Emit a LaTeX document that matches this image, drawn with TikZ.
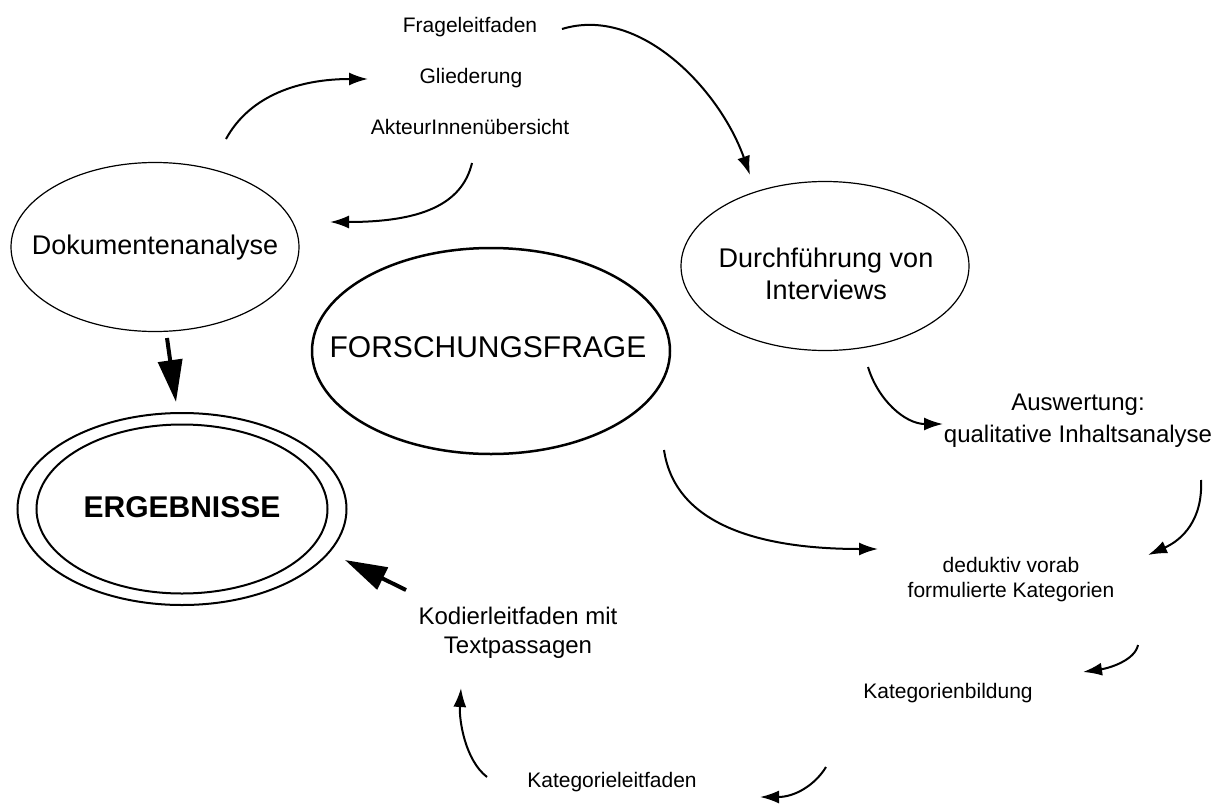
\documentclass[tikz,border=0pt]{standalone}
\usepackage{fontspec}
\setmainfont{Liberation Sans}
\usetikzlibrary{shapes.geometric,arrows.meta}

\tikzset{
  oval/.style={line width=1.2pt},
  txt/.style={align=center, inner sep=0pt},
  lbl/.style={font=\fontsize{21}{25}\selectfont, align=center, inner sep=0pt},
  midlbl/.style={font=\fontsize{24}{30}\selectfont, align=center, inner sep=0pt},
  flow/.style={line width=2pt, -{Latex[length=19pt,width=13pt]}},
  bigflow/.style={line width=4pt, -{Triangle[length=42pt,width=24pt]}},
}

\begin{document}
\begin{tikzpicture}[x=1pt,y=-1pt]
    \useasboundingbox (0,0) rectangle (1223,806);
    % ellipses
    \node[txt, font=\fontsize{27}{32}\selectfont] (doku) at (155,248) {Dokumentenanalyse};
    \draw[oval] (155,247) ellipse (144 and 84.5);
    \node[txt, font=\fontsize{27}{32}\selectfont] (interv) at (826,274) {Durchführung von\\Interviews};
    \draw[oval] (825,266) ellipse (144 and 84.5);
    \node[txt, font=\fontsize{30}{36}\selectfont] (frage) at (488,347) {FORSCHUNGSFRAGE};
    \draw[oval, line width=2.5pt] (491,351) ellipse (179 and 103);
    \node[txt, font=\bfseries\fontsize{30}{36}\selectfont] (erg) at (182,507) {ERGEBNISSE};
    \draw[line width=2pt] (182,509) ellipse (145.5 and 84.5);
    \draw[line width=2pt] (182,509) ellipse (164.5 and 96);
    % labels
    \node[lbl] (fleit) at (470,27) {Frageleitfaden};
    \node[lbl] (glied) at (471,78) {Gliederung};
    \node[lbl] (akteur) at (470,127) {AkteurInnenübersicht};
    \node[midlbl, font=\fontsize{24}{32}\selectfont] (ausw) at (1078,421) {Auswertung:\\qualitative Inhaltsanalyse};
    \node[lbl] (dedu) at (1011,580) {deduktiv vorab\\formulierte Kategorien};
    \node[lbl] (kbild) at (948,693) {Kategorienbildung};
    \node[lbl] (kleit) at (612,782) {Kategorieleitfaden};
    \node[midlbl, font=\fontsize{24}{29}\selectfont] (kodier) at (518,633) {Kodierleitfaden mit\\Textpassagen};
    % arrow ends
    \coordinate (a1) at (226,139);  \coordinate (a2) at (368,79);
    \coordinate (b1) at (472,163);  \coordinate (b2) at (330,222);
    \coordinate (c1) at (562,29);   \coordinate (c2) at (750,175);
    \coordinate (d1) at (167,338);  \coordinate (d2) at (176,402);
    \coordinate (e1) at (406,590);  \coordinate (e2) at (345,560);
    \coordinate (f1) at (868,367);  \coordinate (f2) at (943,424);
    \coordinate (g1) at (664,450);  \coordinate (g2) at (878,549);
    \coordinate (h1) at (1201,480); \coordinate (h2) at (1148,555);
    \coordinate (i1) at (1138,645); \coordinate (i2) at (1083,672);
    \coordinate (j1) at (826,767);  \coordinate (j2) at (760,797);
    \coordinate (k1) at (487,777);  \coordinate (k2) at (461,688);
    % arrows
    \draw[flow] (a1) .. controls (250,95) and (300,79) .. (a2);
    \draw[flow] (b1) .. controls (462,205) and (420,222) .. (b2);
    \draw[flow] (c1) .. controls (640,5) and (720,90) .. (c2);
    \draw[bigflow] (d1) -- (d2);
    \draw[bigflow] (e1) -- (e2);
    \draw[flow] (f1) .. controls (878,400) and (905,424) .. (f2);
    \draw[flow] (g1) .. controls (675,525) and (760,549) .. (g2);
    \draw[flow] (h1) .. controls (1203,520) and (1182,540) .. (h2);
    \draw[flow] (i1) .. controls (1135,660) and (1110,668) .. (i2);
    \draw[flow] (j1) .. controls (815,785) and (795,797) .. (j2);
    \draw[flow] (k1) .. controls (465,760) and (459,720) .. (k2);
\end{tikzpicture}
\end{document}
